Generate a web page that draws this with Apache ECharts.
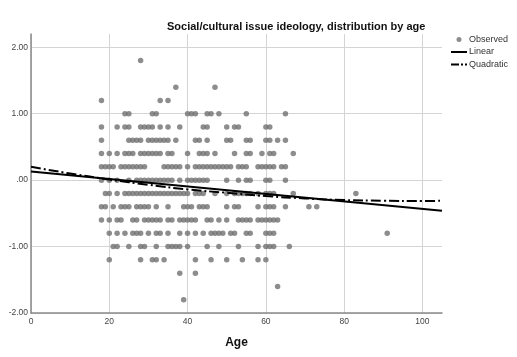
<!DOCTYPE html>
<html>
<head>
<meta charset="utf-8">
<script src="https://cdn.jsdelivr.net/npm/echarts@6/dist/echarts.min.js"></script>
<style>
  html, body { margin: 0; padding: 0; background: #fff; }
  #root { width: 517px; height: 357px; }
</style>
</head>
<body>
<div id="root"></div>
<script>
const titleText = 'Social/cultural issue ideology, distribution by age';
const xTicks = [0, 20, 40, 60, 80, 100];
const yTicks = [-2, -1, 0, 1, 2];

// observed: one row of ages per ideology score
const obsScores = [1.8, 1.4, 1.2, 1.0, 0.8, 0.6, 0.4, 0.2, 0.0, -0.2, -0.4, -0.6, -0.8, -1.0, -1.2, -1.4, -1.6, -1.8];
const obsAges = [
  [28],
  [37, 47],
  [18, 33, 35],
  [24, 25, 31, 32, 40, 41, 42, 45, 46, 48, 55, 65],
  [18, 22, 24, 25, 28, 29, 30, 31, 33, 35, 38, 44, 45, 50, 52, 53, 60, 61],
  [18, 25, 26, 27, 28, 30, 31, 32, 33, 34, 35, 37, 42, 43, 45, 50, 51, 55, 56, 60, 61, 63, 65],
  [18, 20, 22, 24, 25, 26, 28, 29, 30, 31, 32, 33, 35, 36, 40, 43, 44, 45, 47, 52, 55, 56, 59, 61, 62, 67],
  [18, 19, 20, 21, 23, 24, 25, 26, 27, 28, 29, 34, 35, 36, 37, 38, 40, 42, 43, 44, 45, 46, 47, 48, 49, 50, 51, 53, 54, 55, 58, 59, 60, 61, 62, 64, 65],
  [18, 20, 22, 25, 27, 28, 29, 30, 31, 32, 33, 34, 35, 36, 38, 40, 41, 42, 43, 44, 45, 50, 53, 55, 56, 60, 61, 65],
  [19, 20, 22, 24, 25, 26, 27, 28, 29, 30, 31, 32, 33, 34, 35, 36, 37, 38, 39, 40, 42, 43, 44, 47, 50, 52, 53, 54, 55, 56, 58, 60, 61, 62, 67, 83],
  [18, 19, 21, 23, 24, 25, 27, 28, 29, 30, 32, 35, 39, 40, 41, 43, 44, 45, 50, 52, 53, 58, 60, 61, 62, 65, 71, 73],
  [18, 20, 22, 23, 26, 27, 29, 30, 31, 32, 33, 35, 36, 38, 39, 40, 41, 42, 45, 46, 48, 50, 53, 54, 55, 56, 58, 59, 60, 61, 62, 63],
  [20, 22, 24, 26, 27, 28, 30, 32, 33, 35, 38, 40, 42, 44, 46, 47, 48, 49, 51, 52, 55, 56, 60, 61, 62, 91],
  [21, 22, 25, 28, 29, 32, 35, 36, 37, 38, 40, 45, 48, 53, 58, 60, 61, 62, 66],
  [20, 28, 31, 32, 34, 42, 46, 50, 54, 58, 60],
  [38, 42],
  [63],
  [39]
];

// fit lines
const linearX = [0, 105];
const linearY = [0.13, -0.46];
const quadX = [0, 10, 20, 30, 40, 50, 60, 70, 80, 90, 100, 105];
const quadY = [0.20, 0.10, 0.01, -0.07, -0.14, -0.19, -0.24, -0.275, -0.30, -0.31, -0.314, -0.31];

const observed = [];
obsScores.forEach((s, i) => obsAges[i].forEach(a => observed.push([a, s])));
const linear = linearX.map((x, i) => [x, linearY[i]]);
const quadratic = quadX.map((x, i) => [x, quadY[i]]);

const FONT = 'Liberation Sans, Arial, sans-serif';
const GRID = '#d4d4d4';

const chart = echarts.init(document.getElementById('root'));

chart.setOption({
  animation: false,
  textStyle: { fontFamily: FONT },
  title: {
    text: titleText,
    left: 167,
    top: 21,
    padding: 0,
    textStyle: { fontSize: 11, fontWeight: 'bold', color: '#111', fontFamily: FONT }
  },
  legend: {
    orient: 'vertical',
    left: 451,
    top: 35,
    padding: 0,
    itemWidth: 16,
    itemHeight: 5,
    itemGap: 3.5,
    textStyle: { fontSize: 9, color: '#333', fontFamily: FONT, padding: [0, 0, 0, -3] },
    data: [
      { name: 'Observed', icon: 'circle' },
      { name: 'Linear', icon: 'path://M0,0H16V2H0Z' },
      { name: 'Quadratic', icon: 'path://M0,0H8V2H0Z M10,0H12V2H10Z M14,0H16V2H14Z' }
    ]
  },
  grid: { left: 31, right: 75, top: 34, bottom: 44 },
  xAxis: {
    type: 'value',
    min: 0,
    max: 105,
    interval: 20,
    name: 'Age',
    nameLocation: 'middle',
    nameGap: 24,
    nameTextStyle: { fontSize: 12, fontWeight: 'bold', color: '#111', fontFamily: FONT },
    axisLine: { onZero: false, lineStyle: { color: '#8a8a8a', width: 1.5 } },
    axisTick: { show: false },
    axisLabel: {
      fontSize: 8.5,
      color: '#444',
      margin: 4,
      formatter: v => (xTicks.indexOf(v) >= 0 ? String(v) : '')
    },
    splitLine: {
      show: true,
      lineStyle: { color: [GRID, GRID, GRID, GRID, GRID, GRID, 'rgba(0,0,0,0)'], width: 1 }
    }
  },
  yAxis: {
    type: 'value',
    min: -2,
    max: 2.2,
    interval: 1,
    axisLine: { show: true, onZero: false, lineStyle: { color: '#8a8a8a', width: 1.5 } },
    axisTick: { show: false },
    axisLabel: {
      fontSize: 8.5,
      color: '#444',
      margin: 3,
      formatter: v => (yTicks.indexOf(v) >= 0 ? v.toFixed(2).replace(/^(-?)0\./, '$1.') : '')
    },
    splitLine: {
      show: true,
      lineStyle: { color: [GRID, GRID, GRID, GRID, GRID, 'rgba(0,0,0,0)'], width: 1 }
    }
  },
  series: [
    {
      name: 'Observed',
      type: 'scatter',
      data: observed,
      symbolSize: 5.5,
      itemStyle: { color: '#707070' }
    },
    {
      name: 'Linear',
      type: 'line',
      data: linear,
      symbol: 'none',
      lineStyle: { color: '#000', width: 2 },
      itemStyle: { color: '#000' }
    },
    {
      name: 'Quadratic',
      type: 'line',
      data: quadratic,
      smooth: true,
      symbol: 'none',
      lineStyle: { color: '#000', width: 2, type: [10, 3, 2, 3] },
      itemStyle: { color: '#000' }
    }
  ]
});
</script>
</body>
</html>
